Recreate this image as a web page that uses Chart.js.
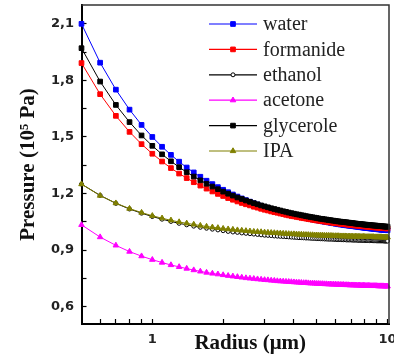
<!DOCTYPE html>
<html>
<head>
<meta charset="utf-8">
<script src="https://cdn.jsdelivr.net/npm/chart.js@4.4.1/dist/chart.umd.min.js"></script>
<style>
  html, body { margin: 0; padding: 0; background: #fff; }
  #c { display: block; }
</style>
</head>
<body>
<canvas id="c" width="394" height="356"></canvas>
<script>
// ---- data ----
const radius = [
  0.5,0.6,0.7,0.8,0.9,1.0,1.1,1.2,1.3,1.4,
  1.5,1.6,1.7,1.8,1.9,2.0,2.1,2.2,2.3,2.4,
  2.5,2.6,2.7,2.8,2.9,3.0,3.1,3.2,3.3,3.4,
  3.5,3.6,3.7,3.8,3.9,4.0,4.1,4.2,4.3,4.4,
  4.5,4.6,4.7,4.8,4.9,5.0,5.1,5.2,5.3,5.4,
  5.5,5.6,5.7,5.8,5.9,6.0,6.1,6.2,6.3,6.4,
  6.5,6.6,6.7,6.8,6.9,7.0,7.1,7.2,7.3,7.4,
  7.5,7.6,7.7,7.8,7.9,8.0,8.1,8.2,8.3,8.4,
  8.5,8.6,8.7,8.8,8.9,9.0,9.1,9.2,9.3,9.4,
  9.5,9.6,9.7,9.8,9.9,10.0
];
const water = [
  2.100,1.894,1.751,1.645,1.564,1.500,1.448,1.405,1.369,1.338,
  1.312,1.289,1.268,1.250,1.234,1.220,1.207,1.195,1.184,1.174,
  1.165,1.157,1.149,1.142,1.135,1.129,1.124,1.118,1.113,1.108,
  1.104,1.099,1.095,1.092,1.088,1.085,1.081,1.078,1.075,1.073,
  1.070,1.067,1.065,1.062,1.060,1.058,1.056,1.054,1.052,1.050,
  1.048,1.047,1.045,1.043,1.042,1.040,1.039,1.037,1.036,1.035,
  1.033,1.032,1.031,1.030,1.029,1.028,1.027,1.026,1.025,1.024,
  1.023,1.022,1.021,1.020,1.019,1.018,1.017,1.017,1.016,1.015,
  1.014,1.014,1.013,1.012,1.012,1.011,1.010,1.010,1.009,1.008,
  1.008,1.007,1.007,1.006,1.006,1.005
];
const formanide = [
  1.892,1.727,1.612,1.527,1.462,1.411,1.370,1.335,1.306,1.282,
  1.260,1.242,1.226,1.211,1.198,1.187,1.176,1.167,1.158,1.150,
  1.143,1.137,1.130,1.125,1.119,1.114,1.110,1.105,1.101,1.098,
  1.094,1.091,1.087,1.084,1.081,1.079,1.076,1.074,1.071,1.069,
  1.067,1.065,1.063,1.061,1.059,1.057,1.056,1.054,1.053,1.051,
  1.050,1.048,1.047,1.046,1.044,1.043,1.042,1.041,1.040,1.039,
  1.038,1.037,1.036,1.035,1.034,1.033,1.032,1.031,1.031,1.030,
  1.029,1.028,1.028,1.027,1.026,1.026,1.025,1.024,1.024,1.023,
  1.022,1.022,1.021,1.021,1.020,1.020,1.019,1.019,1.018,1.018,
  1.017,1.017,1.016,1.016,1.015,1.015
];
const ethanol = [
  1.250,1.190,1.148,1.118,1.096,1.078,1.064,1.052,1.042,1.034,
  1.027,1.021,1.016,1.011,1.007,1.003,0.999,0.996,0.994,0.991,
  0.989,0.987,0.985,0.983,0.981,0.979,0.978,0.977,0.975,0.974,
  0.973,0.972,0.971,0.970,0.969,0.968,0.967,0.966,0.966,0.965,
  0.964,0.964,0.963,0.962,0.962,0.961,0.961,0.960,0.960,0.959,
  0.959,0.958,0.958,0.958,0.957,0.957,0.956,0.956,0.956,0.955,
  0.955,0.955,0.954,0.954,0.954,0.954,0.953,0.953,0.953,0.953,
  0.952,0.952,0.952,0.952,0.951,0.951,0.951,0.951,0.951,0.950,
  0.950,0.950,0.950,0.950,0.950,0.949,0.949,0.949,0.949,0.949,
  0.949,0.949,0.948,0.948,0.948,0.948
];
const acetone = [
  1.034,0.969,0.925,0.892,0.868,0.849,0.834,0.821,0.811,0.802,
  0.794,0.787,0.781,0.776,0.772,0.768,0.764,0.761,0.758,0.755,
  0.752,0.750,0.748,0.746,0.744,0.742,0.741,0.739,0.738,0.736,
  0.735,0.734,0.733,0.732,0.731,0.730,0.729,0.728,0.727,0.726,
  0.726,0.725,0.724,0.724,0.723,0.722,0.722,0.721,0.721,0.720,
  0.720,0.719,0.719,0.718,0.718,0.718,0.717,0.717,0.716,0.716,
  0.716,0.715,0.715,0.715,0.714,0.714,0.714,0.714,0.713,0.713,
  0.713,0.713,0.712,0.712,0.712,0.712,0.711,0.711,0.711,0.711,
  0.710,0.710,0.710,0.710,0.710,0.710,0.709,0.709,0.709,0.709,
  0.709,0.709,0.708,0.708,0.708,0.708
];
const glycerole = [
  1.971,1.794,1.670,1.579,1.508,1.453,1.408,1.371,1.340,1.313,
  1.290,1.270,1.252,1.237,1.223,1.210,1.199,1.189,1.179,1.171,
  1.163,1.156,1.149,1.143,1.137,1.132,1.127,1.122,1.118,1.114,
  1.110,1.106,1.103,1.099,1.096,1.093,1.090,1.088,1.085,1.083,
  1.080,1.078,1.076,1.074,1.072,1.070,1.068,1.066,1.065,1.063,
  1.062,1.060,1.059,1.057,1.056,1.055,1.053,1.052,1.051,1.050,
  1.049,1.048,1.047,1.046,1.045,1.044,1.043,1.042,1.041,1.040,
  1.039,1.039,1.038,1.037,1.036,1.035,1.035,1.034,1.033,1.033,
  1.032,1.031,1.031,1.030,1.030,1.029,1.029,1.028,1.027,1.027,
  1.026,1.026,1.025,1.025,1.024,1.024
];
const ipa = [
  1.250,1.189,1.149,1.120,1.099,1.082,1.069,1.058,1.049,1.042,
  1.036,1.030,1.025,1.021,1.018,1.014,1.011,1.009,1.006,1.004,
  1.002,1.000,0.998,0.997,0.996,0.994,0.993,0.992,0.991,0.990,
  0.989,0.988,0.987,0.986,0.985,0.985,0.984,0.983,0.983,0.982,
  0.981,0.981,0.980,0.980,0.979,0.979,0.978,0.978,0.978,0.977,
  0.977,0.977,0.976,0.976,0.975,0.975,0.975,0.975,0.974,0.974,
  0.974,0.974,0.973,0.973,0.973,0.973,0.972,0.972,0.972,0.972,
  0.972,0.971,0.971,0.971,0.971,0.971,0.970,0.970,0.970,0.970,
  0.970,0.970,0.970,0.969,0.969,0.969,0.969,0.969,0.969,0.969,
  0.968,0.968,0.968,0.968,0.968,0.968
];
const seriesNames = ['water', 'formanide', 'ethanol', 'acetone', 'glycerole', 'IPA'];
const xTickValues = [0.6, 0.7, 0.8, 0.9, 1, 2, 3, 4, 5, 6, 7, 8, 9, 10];
const xTickLabels = [1, 10];
const yTickValues = [0.6, 0.75, 0.9, 1.05, 1.2, 1.35, 1.5, 1.65, 1.8, 1.95, 2.1];
const yTickLabels = [0.6, 0.9, 1.2, 1.5, 1.8, 2.1];

// ---- chart ----
const seriesValues = [water, formanide, ethanol, acetone, glycerole, ipa];
const styles = [
  { color: '#0000ff', fill: '#0000ff', point: 'rect', r: 3.3 },
  { color: '#ff0000', fill: '#ff0000', point: 'rect', r: 3.3 },
  { color: '#000000', fill: '#ffffff', point: 'circle', r: 2 },
  { color: '#ff00ff', fill: '#ff00ff', point: 'triangle', r: 3.2 },
  { color: '#000000', fill: '#000000', point: 'rect', r: 3.3 },
  { color: '#808000', fill: '#808000', point: 'triangle', r: 3.2 }
];

const datasets = seriesNames.map((name, i) => ({
  label: name,
  data: radius.map((r, k) => ({ x: r, y: seriesValues[i][k] })),
  borderColor: styles[i].color,
  backgroundColor: styles[i].fill,
  borderWidth: 1,
  pointStyle: styles[i].point,
  pointRadius: styles[i].r,
  pointBorderWidth: 1,
  pointBorderColor: styles[i].color,
  pointBackgroundColor: styles[i].fill,
  order: seriesNames.length - i,
  clip: false,
  tension: 0
}));

const tickFont = { family: '"DejaVu Sans", sans-serif', size: 13, weight: 'bold' };
const titleFont = { family: '"Liberation Serif", "Times New Roman", serif', size: 21, weight: 'bold' };

const framePlugin = {
  id: 'frame',
  afterDraw(chart) {
    const { ctx, chartArea: a } = chart;
    ctx.save();
    ctx.strokeStyle = '#333';
    ctx.lineWidth = 1.5;
    ctx.beginPath();
    ctx.moveTo(a.left, a.top);
    ctx.lineTo(a.right, a.top);
    ctx.lineTo(a.right, a.bottom);
    ctx.stroke();
    ctx.restore();
  }
};

const legendPlugin = {
  id: 'insideLegend',
  afterDatasetsDraw(chart) {
    const { ctx, chartArea: a } = chart;
    const x0 = a.right - 180;
    const y0 = a.top + 19;
    chart.data.datasets.forEach((ds, i) => {
      const y = y0 + i * 25.4;
      ctx.save();
      ctx.strokeStyle = ds.borderColor;
      ctx.lineWidth = 1.2;
      ctx.beginPath();
      ctx.moveTo(x0, y);
      ctx.lineTo(x0 + 48, y);
      ctx.stroke();
      ctx.fillStyle = ds.pointBackgroundColor;
      ctx.strokeStyle = ds.pointBorderColor;
      ctx.lineWidth = 1;
      Chart.helpers.drawPoint(ctx, { pointStyle: ds.pointStyle, radius: ds.pointRadius, rotation: 0, borderWidth: 1 }, x0 + 24, y);
      ctx.fillStyle = '#222';
      ctx.font = '20px "Liberation Serif", serif';
      ctx.textBaseline = 'middle';
      ctx.textAlign = 'left';
      ctx.fillText(ds.label, x0 + 54, y + 1);
      ctx.restore();
    });
  }
};

const shiftTitlePlugin = {
  id: 'shiftXTitle',
  beforeDraw(chart) {
    const s = chart.scales.x;
    if (s && !s.__shifted) {
      const orig = s.drawTitle;
      s.drawTitle = function () {
        this.ctx.save();
        this.ctx.translate(15, 0);
        orig.call(this);
        this.ctx.restore();
      };
      s.__shifted = true;
    }
  }
};

new Chart(document.getElementById('c'), {
  type: 'line',
  data: { datasets },
  options: {
    responsive: false,
    devicePixelRatio: 1,
    animation: false,
    layout: { padding: { top: 5, right: 5, left: 0, bottom: 0 } },
    plugins: { legend: { display: false }, tooltip: { enabled: false } },
    scales: {
      x: {
        type: 'logarithmic',
        min: 0.5,
        max: 10.14,
        afterBuildTicks: (scale) => { scale.ticks = xTickValues.map(v => ({ value: v })); },
        afterFit: (scale) => { scale.height = 32; scale.paddingLeft = 0; scale.paddingRight = 0; },
        ticks: {
          autoSkip: false,
          maxRotation: 0,
          padding: 13,
          color: '#222',
          font: tickFont,
          callback: (v) => xTickLabels.includes(v) ? String(v) : ''
        },
        grid: { drawOnChartArea: false, tickLength: -5, tickWidth: 1.2, tickColor: '#000' },
        border: { display: true, color: '#000', width: 2 },
        title: { display: true, text: 'Radius (μm)', color: '#111', font: titleFont, padding: { top: 0, bottom: 0 } }
      },
      y: {
        type: 'linear',
        min: 0.508,
        max: 2.2,
        afterBuildTicks: (scale) => { scale.ticks = yTickValues.map(v => ({ value: v })); },
        afterFit: (scale) => { scale.width = 81.5; scale.paddingTop = 0; scale.paddingBottom = 0; },
        ticks: {
          autoSkip: false,
          padding: 12.5,
          color: '#222',
          font: tickFont,
          callback: (v) => yTickLabels.some(t => Math.abs(t - v) < 1e-6) ? v.toFixed(1).replace('.', ',') : ''
        },
        grid: { drawOnChartArea: false, tickLength: -5, tickWidth: 1.2, tickColor: '#000' },
        border: { display: true, color: '#000', width: 2 },
        title: { display: true, text: 'Pressure (10⁵ Pa)', color: '#111', font: titleFont, padding: { top: 16, bottom: 0 } }
      }
    }
  },
  plugins: [framePlugin, legendPlugin, shiftTitlePlugin]
});
</script>
</body>
</html>
